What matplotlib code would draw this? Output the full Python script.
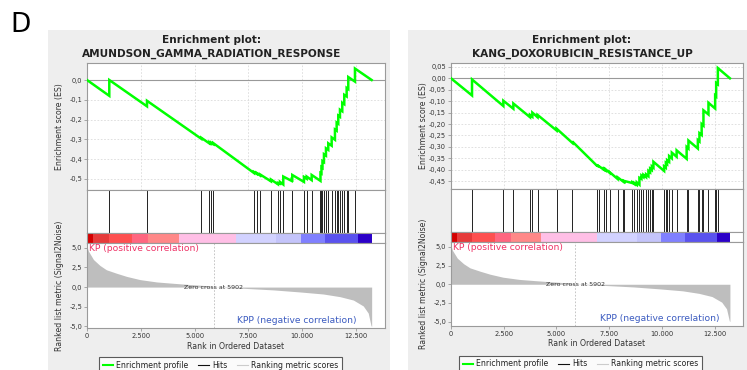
import matplotlib
matplotlib.use("Agg")
import matplotlib.pyplot as plt
from matplotlib.lines import Line2D
from matplotlib.patches import Rectangle

W, H = 747, 370

# ---- ranked list shared by both gene sets ----
N_GENES = 13230
ZERO_CROSS = 5902
X_MAX = 13850

metric_rank = [0, 60, 300, 600, 900, 1380, 1850, 2460, 3240, 4010, 4790, 5560,
               5902, 7110, 8660, 9900, 10980, 11760, 12380, 12840, 13070, 13200, 13230]
metric_value = [5.2, 4.6, 3.5, 2.75, 2.2, 1.75, 1.35, 0.95, 0.65, 0.48, 0.32, 0.18,
                0.0, -0.13, -0.36, -0.62, -0.88, -1.22, -1.65, -2.4, -3.3, -4.9, -5.0]

heat_edges = [0, 280, 1000, 2080, 2830, 4270, 6910, 8800, 9950, 11080, 12610, 13230]
heat_colors = ['#D40000', '#E63B3B', '#FE5050', '#FF6680', '#FF8888', '#FFBFE6',
               '#D2D2FF', '#C4C4FA', '#8080FF', '#5A52EE', '#2B00C8']

rank_ticks = [0, 2500, 5000, 7500, 10000, 12500]
rank_tick_labels = ["0", "2.500", "5.000", "7.500", "10.000", "12.500"]
metric_ticks = [5.0, 2.5, 0.0, -2.5, -5.0]
metric_tick_labels = ["5,0", "2,5", "0,0", "-2,5", "-5,0"]

# ---- AMUNDSON_GAMMA_RADIATION_RESPONSE ----
amundson_hits = [1036, 2788, 5311, 5683, 5762, 5869, 7760, 7886, 8039, 8550, 8876,
                 8969, 9122, 9512, 9540, 10084, 10210, 10442, 10851, 10897, 10944,
                 11013, 11106, 11213, 11371, 11524, 11603, 11678, 11757, 11864,
                 11957, 12068, 12143, 12454]
amundson_es_before = [-0.080, -0.133, -0.297, -0.320, -0.321, -0.324, -0.470, -0.474,
                      -0.482, -0.512, -0.527, -0.524, -0.528, -0.510, -0.505, -0.515,
                      -0.499, -0.506, -0.510, -0.473, -0.444, -0.415, -0.382, -0.353,
                      -0.332, -0.302, -0.256, -0.221, -0.186, -0.158, -0.122, -0.083,
                      -0.046, -0.008]
amundson_es_after = [0.000, -0.105, -0.292, -0.315, -0.316, -0.319, -0.465, -0.470,
                     -0.477, -0.503, -0.520, -0.515, -0.488, -0.503, -0.480, -0.490,
                     -0.488, -0.480, -0.470, -0.440, -0.410, -0.375, -0.345, -0.320,
                     -0.290, -0.250, -0.215, -0.180, -0.150, -0.115, -0.075, -0.040,
                     0.015, 0.058]
amundson_es_ticks = [0.0, -0.1, -0.2, -0.3, -0.4, -0.5]
amundson_es_labels = ["0,0", "-0,1", "-0,2", "-0,3", "-0,4", "-0,5"]

# ---- KANG_DOXORUBICIN_RESISTANCE_UP ----
kang_hits = [997, 2482, 2957, 3749, 3858, 4105, 5007, 5752, 6929, 7010, 7261, 7333,
             7522, 7902, 8177, 8225, 8605, 8699, 8813, 8937, 9032, 9127, 9255, 9364,
             9445, 9525, 9601, 10109, 10190, 10251, 10346, 10474, 10702, 11177,
             11262, 11708, 11784, 11889, 11974, 12212, 12529, 12577, 12657]
kang_es_before = [-0.075, -0.121, -0.133, -0.170, -0.168, -0.170, -0.228, -0.282,
                  -0.383, -0.387, -0.400, -0.402, -0.413, -0.440, -0.452, -0.452,
                  -0.458, -0.462, -0.466, -0.465, -0.440, -0.432, -0.432, -0.428,
                  -0.411, -0.401, -0.391, -0.405, -0.391, -0.375, -0.365, -0.350,
                  -0.343, -0.352, -0.307, -0.307, -0.276, -0.248, -0.207, -0.158,
                  -0.132, -0.079, -0.026]
kang_es_after = [-0.005, -0.098, -0.110, -0.160, -0.150, -0.160, -0.220, -0.276,
                 -0.380, -0.384, -0.396, -0.398, -0.410, -0.433, -0.449, -0.449,
                 -0.455, -0.458, -0.455, -0.435, -0.425, -0.422, -0.420, -0.405,
                 -0.395, -0.385, -0.365, -0.385, -0.370, -0.358, -0.340, -0.325,
                 -0.315, -0.300, -0.272, -0.270, -0.240, -0.200, -0.140, -0.107,
                 -0.075, -0.020, 0.045]
kang_es_ticks = [0.05, 0.0, -0.05, -0.10, -0.15, -0.20, -0.25, -0.30, -0.35, -0.40, -0.45]
kang_es_labels = ["0,05", "0,00", "-0,05", "-0,10", "-0,15", "-0,20", "-0,25",
                  "-0,30", "-0,35", "-0,40", "-0,45"]

plt.rcParams['font.family'] = ['DejaVu Sans']

SPINE = '#9A9A9A'
GRID = '#DADADA'
TICK_TXT = '#333333'
ES_GREEN = '#00FF00'
FILL_GRAY = '#BEBEBE'


def box(x0, y0, x1, y1):
    return [x0 / W, (H - y1) / H, (x1 - x0) / W, (y1 - y0) / H]


def style_axes(ax):
    for s in ax.spines.values():
        s.set_color(SPINE)
        s.set_linewidth(0.8)
    ax.tick_params(colors=SPINE, labelcolor=TICK_TXT, labelsize=4.8,
                   length=2, width=0.6, pad=1.5)


fig = plt.figure(figsize=(W / 100, H / 100), dpi=100)
fig.patch.set_facecolor('white')

fig.text(10 / W, 1 - 12 / H, "D", fontsize=19, ha='left', va='top', color='black')


def draw_panel(panel_x0, panel_x1, ax_x0, ax_x1, es_top, es_bot, heat_top, heat_bot,
               met_bot, title_cx, name, hits, es_before, es_after, es_ticks, es_labels,
               es_ylim, met_ylim, kpp_x, legend_xy):
    fig.patches.append(Rectangle((panel_x0 / W, 0), (panel_x1 - panel_x0) / W,
                                 (H - 30) / H, transform=fig.transFigure,
                                 facecolor='#EEEEEE', edgecolor='none', zorder=-10))
    fig.text(title_cx / W, 1 - 43 / H, "Enrichment plot:", fontsize=7.6,
             fontweight='bold', ha='center', va='baseline', color='#222222')
    fig.text(title_cx / W, 1 - 56.5 / H, name, fontsize=7.6,
             fontweight='bold', ha='center', va='baseline', color='#222222')

    # running enrichment score
    ax_es = fig.add_axes(box(ax_x0, es_top, ax_x1, es_bot))
    style_axes(ax_es)
    xs = [0]
    ys = [0.0]
    for h, b, a in zip(hits, es_before, es_after):
        xs += [h, h]
        ys += [b, a]
    xs.append(N_GENES)
    ys.append(0.0)
    ax_es.axhline(0, color='#999999', lw=0.8, zorder=1)
    ax_es.plot(xs, ys, color=ES_GREEN, lw=1.8, solid_joinstyle='miter', zorder=3)
    ax_es.set_xlim(0, X_MAX)
    ax_es.set_ylim(*es_ylim)
    ax_es.set_yticks(es_ticks)
    ax_es.set_yticklabels(es_labels)
    ax_es.set_xticks(rank_ticks)
    ax_es.tick_params(axis='x', length=0, labelbottom=False)
    ax_es.grid(True, color=GRID, ls=(0, (2, 2)), lw=0.6, zorder=0)
    ax_es.set_axisbelow(True)
    ax_es.set_ylabel("Enrichment score (ES)", fontsize=5.6, color='#333333')
    ax_es.yaxis.set_label_coords(-0.078, 0.5)

    # hit positions
    ax_hit = fig.add_axes(box(ax_x0, es_bot, ax_x1, heat_top))
    style_axes(ax_hit)
    ax_hit.vlines(hits, 0, 1, color='#222222', lw=0.7)
    ax_hit.set_xlim(0, X_MAX)
    ax_hit.set_ylim(0, 1)
    ax_hit.set_xticks([])
    ax_hit.set_yticks([])

    # ranked-list heat bar
    ax_heat = fig.add_axes(box(ax_x0, heat_top, ax_x1, heat_bot))
    style_axes(ax_heat)
    for lo, hi, c in zip(heat_edges[:-1], heat_edges[1:], heat_colors):
        ax_heat.axvspan(lo, hi, color=c, lw=0)
    ax_heat.set_xlim(0, X_MAX)
    ax_heat.set_ylim(0, 1)
    ax_heat.set_xticks([])
    ax_heat.set_yticks([])

    # ranked list metric
    ax_m = fig.add_axes(box(ax_x0, heat_bot, ax_x1, met_bot))
    style_axes(ax_m)
    ax_m.fill_between(metric_rank, metric_value, 0, color=FILL_GRAY, lw=0)
    ax_m.axvline(ZERO_CROSS, color='#BBBBBB', ls=(0, (2, 2)), lw=0.6)
    ax_m.text(ZERO_CROSS, 0, "Zero cross at 5902", fontsize=4.5, ha='center',
              va='center', color='#333333')
    ax_m.set_xlim(0, X_MAX)
    ax_m.set_ylim(*met_ylim)
    ax_m.set_yticks(metric_ticks)
    ax_m.set_yticklabels(metric_tick_labels)
    ax_m.set_xticks(rank_ticks)
    ax_m.set_xticklabels(rank_tick_labels)
    ax_m.text(0.008, 0.985, "KP (positive correlation)", transform=ax_m.transAxes,
              fontsize=6.6, color='#EE3366', ha='left', va='top')
    ax_m.text(kpp_x, 0.035, "KPP (negative correlation)", transform=ax_m.transAxes,
              fontsize=6.6, color='#3B5BC0', ha='right', va='bottom')
    ax_m.set_xlabel("Rank in Ordered Dataset", fontsize=5.6, color='#333333')
    ax_m.xaxis.set_label_coords(0.5, -0.16)
    ax_m.set_ylabel("Ranked list metric (Signal2Noise)", fontsize=5.6, color='#333333')
    ax_m.yaxis.set_label_coords(-0.078, 0.5)

    handles = [Line2D([], [], color=ES_GREEN, lw=1.5),
               Line2D([], [], color='#111111', lw=0.8),
               Line2D([], [], color='#CCCCCC', lw=0.8)]
    labels = ["Enrichment profile", "Hits", "Ranking metric scores"]
    leg = fig.legend(handles, labels, loc='upper left',
                     bbox_to_anchor=(legend_xy[0] / W, 1 - legend_xy[1] / H),
                     ncol=3, fontsize=5.6, frameon=True, fancybox=False,
                     handlelength=1.4, handletextpad=0.35, columnspacing=1.3,
                     borderpad=0.45, borderaxespad=0)
    leg.get_frame().set_edgecolor('#333333')
    leg.get_frame().set_linewidth(0.8)
    for t in leg.get_texts():
        t.set_color('#222222')


draw_panel(48, 390, 87, 385, 63, 190, 233, 243, 328, 212,
           "AMUNDSON_GAMMA_RADIATION_RESPONSE", amundson_hits,
           amundson_es_before, amundson_es_after, amundson_es_ticks,
           amundson_es_labels, (-0.556, 0.086), (-5.2, 5.6), 0.903, (99, 357))

draw_panel(408, 747, 451, 743, 63, 189, 232, 242, 326, 582,
           "KANG_DOXORUBICIN_RESISTANCE_UP", kang_hits,
           kang_es_before, kang_es_after, kang_es_ticks,
           kang_es_labels, (-0.484, 0.067), (-5.6, 5.67), 0.919, (459, 356))

fig.savefig("out.png", dpi=100)
